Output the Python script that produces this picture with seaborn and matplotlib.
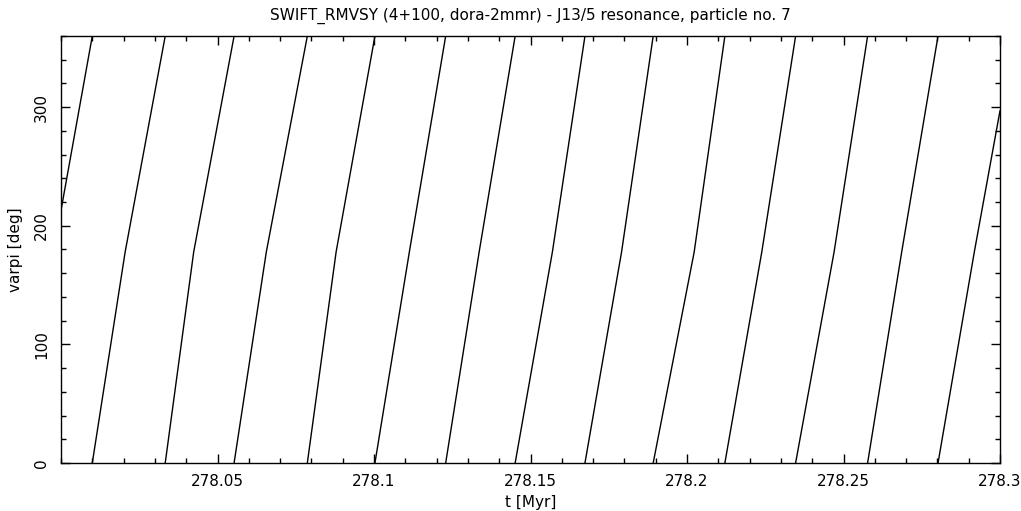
import matplotlib
matplotlib.use("Agg")
import matplotlib.pyplot as plt
import numpy as np
import pandas as pd
import seaborn as sns
from matplotlib.ticker import FixedLocator, MultipleLocator, FixedFormatter

# times [Myr] where varpi wraps from 360 back to 0
wrap_t = [278.0100, 278.0333, 278.0553, 278.0787, 278.1003, 278.1229, 278.1451,
          278.1674, 278.1892, 278.2121, 278.2347, 278.2577, 278.2802]
# times where each branch passes varpi = 178 deg
mid_t = [278.0205, 278.0424, 278.0656, 278.0879, 278.1113, 278.1336, 278.1570,
         278.1791, 278.2023, 278.2239, 278.2470, 278.2686, 278.2918]
mid_varpi = 178.0
# values at the plot edges
t_first, varpi_first = 278.0, 213.0
t_last, varpi_last = 278.3, 297.0

x_tick_pos = [278.05, 278.1, 278.15, 278.2, 278.25, 278.3]
x_tick_labels = ["278.05", "278.1", "278.15", "278.2", "278.25", "278.3"]
y_tick_pos = [0, 100, 200, 300]

# assemble branches: one row per read point, branch id for each unwrap
rows = [(0, t_first, varpi_first), (0, wrap_t[0], 360.0)]
for k in range(len(wrap_t)):
    rows.append((k + 1, wrap_t[k], 0.0))
    rows.append((k + 1, mid_t[k], mid_varpi))
    if k + 1 < len(wrap_t):
        rows.append((k + 1, wrap_t[k + 1], 360.0))
    else:
        rows.append((k + 1, t_last, varpi_last))
df = pd.DataFrame(rows, columns=["branch", "t", "varpi"])

sns.set_style("ticks")
plt.rcParams["font.family"] = ["DejaVu Sans"]

fig = plt.figure(figsize=(10.21, 5.11), dpi=100)
ax = fig.add_axes([61 / 1021, 1 - 463 / 511, 939 / 1021, 427 / 511])

sns.lineplot(data=df, x="t", y="varpi", units="branch", estimator=None,
             color="black", linewidth=1.0, ax=ax, legend=False)

ax.set_xlim(278.0, 278.3)
ax.set_ylim(0, 360)
ax.xaxis.set_major_locator(FixedLocator(x_tick_pos))
ax.xaxis.set_major_formatter(FixedFormatter(x_tick_labels))
ax.xaxis.set_minor_locator(MultipleLocator(0.01))
ax.yaxis.set_major_locator(FixedLocator(y_tick_pos))
ax.yaxis.set_minor_locator(MultipleLocator(20))

ax.tick_params(which="both", direction="in", top=True, right=True,
               color="black", width=1, labelsize=11, labelcolor="black")
ax.tick_params(which="major", length=6.5)
ax.tick_params(which="minor", length=3.3)
ax.tick_params(axis="x", pad=8)
for lab in ax.get_yticklabels():
    lab.set_rotation(90)
    lab.set_va("center")
ax.tick_params(axis="y", pad=8.5)

for s in ax.spines.values():
    s.set_color("black")
    s.set_linewidth(1)

ax.set_xlabel("t [Myr]", fontsize=11, color="black", labelpad=4)
ax.set_ylabel("varpi [deg]", fontsize=11, color="black", labelpad=8)
ax.set_title("SWIFT_RMVSY (4+100, dora-2mmr) - J13/5 resonance, particle no. 7",
             fontsize=11, color="black", pad=12)

fig.savefig("out.png", dpi=100, facecolor="white")
